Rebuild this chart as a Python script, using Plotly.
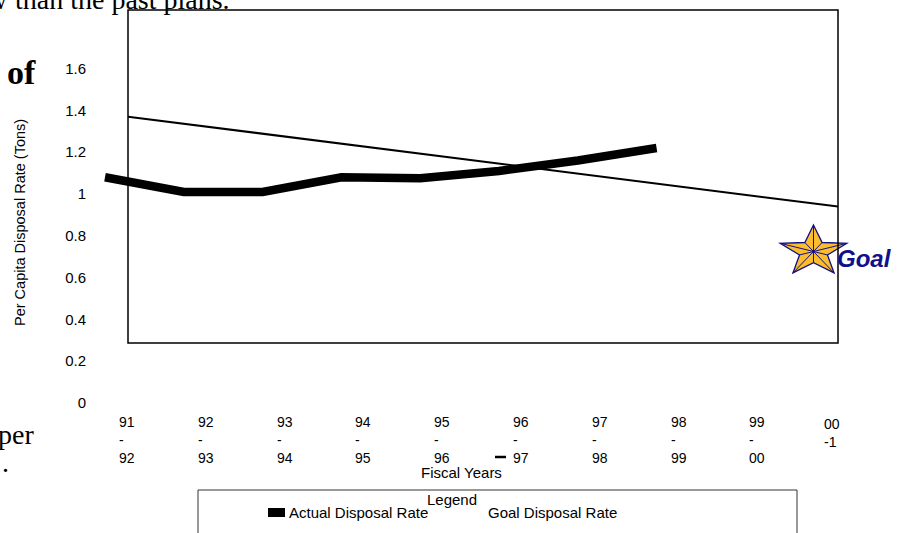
import math
import plotly.graph_objects as go

W, H = 897, 533

# ---- data ----
fiscal_years = ["91-92", "92-93", "93-94", "94-95", "95-96",
                "96-97", "97-98", "98-99", "99-00", "00-01"]
tick_labels = ["91<br>-<br>92", "92<br>-<br>93", "93<br>-<br>94", "94<br>-<br>95",
               "95<br>-<br>96", "96<br>-<br>97", "97<br>-<br>98", "98<br>-<br>99",
               "99<br>-<br>00", "00<br>-1"]
actual_years = fiscal_years[:8]
actual_rate = [1.08, 1.01, 1.01, 1.08, 1.075, 1.11, 1.16, 1.22]
goal_years = ["91-92", "00-01"]
goal_rate = [1.37, 0.94]
y_ticks = [0, 0.2, 0.4, 0.6, 0.8, 1.0, 1.2, 1.4, 1.6]
y_tick_text = ["0", "0.2", "0.4", "0.6", "0.8", "1", "1.2", "1.4", "1.6"]


def px(x):
    return x / W


def py(y):
    return 1 - y / H


SANS = "Liberation Sans, Arial, sans-serif"
SERIF = "Liberation Serif, Times New Roman, serif"
NAVY = "#10108A"

fig = go.Figure()

fig.add_trace(go.Scatter(
    x=actual_years, y=actual_rate, mode="lines", name="Actual Disposal Rate",
    line=dict(color="black", width=8.5), xaxis="x", yaxis="y", showlegend=False,
))
fig.add_trace(go.Scatter(
    x=goal_years, y=goal_rate, mode="lines", name="Goal Disposal Rate",
    line=dict(color="black", width=2), xaxis="x2", yaxis="y", showlegend=False,
))

shapes = []

# gold star next to the goal year
cx, cy, rx, ry, inner = 813.5, 251.5, 35.0, 26.5, 0.42
verts = []
for k in range(10):
    a = math.radians(-90 + 36 * k)
    r = 1.0 if k % 2 == 0 else inner
    verts.append((cx + rx * r * math.cos(a), cy + ry * r * math.sin(a)))
star_path = "M " + " L ".join(f"{px(x):.5f},{py(y):.5f}" for x, y in verts) + " Z"
shapes.append(dict(type="path", xref="paper", yref="paper", path=star_path,
                   fillcolor="#FBBD2B", line=dict(color=NAVY, width=1.3), layer="above"))
spokes = " ".join(f"M {px(cx):.5f},{py(cy):.5f} L {px(x):.5f},{py(y):.5f}" for x, y in verts)
shapes.append(dict(type="path", xref="paper", yref="paper", path=spokes,
                   line=dict(color=NAVY, width=1), layer="above"))

# plot frame
shapes.append(dict(type="rect", xref="paper", yref="paper",
                   x0=px(128), x1=px(838), y0=py(343), y1=py(10),
                   line=dict(color="black", width=1.5), layer="above"))

# legend box, key swatch and stray goal key
shapes.append(dict(type="rect", xref="paper", yref="paper",
                   x0=px(198), x1=px(797), y0=py(545), y1=py(490),
                   line=dict(color="#333333", width=1), layer="above"))
shapes.append(dict(type="rect", xref="paper", yref="paper",
                   x0=px(268), x1=px(285), y0=py(517), y1=py(508),
                   fillcolor="black", line=dict(width=0), layer="above"))
shapes.append(dict(type="line", xref="paper", yref="paper",
                   x0=px(495), x1=px(506), y0=py(457), y1=py(457),
                   line=dict(color="black", width=2.5), layer="above"))


def note(x, y, text, size, family=SANS, xanchor="center", yanchor="middle", **kw):
    return dict(x=px(x), y=py(y), xref="paper", yref="paper", text=text,
                showarrow=False, xanchor=xanchor, yanchor=yanchor,
                font=dict(family=family, size=size, color=kw.pop("color", "black")), **kw)


annotations = []
for i, (yr, lab) in enumerate(zip(fiscal_years, tick_labels)):
    last = i == len(fiscal_years) - 1
    annotations.append(dict(x=yr, xref="x", y=py(414 if last else 412), yref="paper",
                            text=lab, showarrow=False, xanchor="left", yanchor="top",
                            align="left", xshift=8 if last else 12,
                            font=dict(family=SANS, size=14, color="black")))

annotations += [
    note(461, 472, "Fiscal Years", 15),
    note(20, 223, "Per Capita Disposal Rate (Tons)", 14.5, textangle=-90),
    note(452, 499, "Legend", 15),
    note(287, 512, "Actual Disposal Rate", 15, xanchor="left"),
    note(486, 512, "Goal Disposal Rate", 15, xanchor="left"),
    note(835, 259, "<b><i>Goal</i></b>", 24, xanchor="left", color=NAVY),
    # surrounding document text
    note(13, 5, "than the past plans.", 28, family=SERIF, xanchor="left",
         yanchor="bottom", yshift=-12),
    note(-15, 5, "w", 28, family=SERIF, xanchor="left", yanchor="bottom", yshift=-12),
    note(5, 73, "<b>of</b>", 34, family=SERIF, xanchor="left"),
    note(36, 434, "per", 28, family=SERIF, xanchor="right"),
    note(0, 462, ".", 28, family=SERIF, xanchor="left"),
]

x_lo = (0 - 105) / 78.8
x_hi = (W - 105) / 78.8
y_lo = (403 - H) / 209
y_hi = 403 / 209

fig.update_layout(
    width=W, height=H, autosize=False,
    margin=dict(l=0, r=0, t=0, b=0, pad=0),
    paper_bgcolor="white", plot_bgcolor="rgba(0,0,0,0)",
    showlegend=False,
    xaxis=dict(type="category", categoryarray=fiscal_years, range=[x_lo, x_hi],
               domain=[0, 1], visible=False),
    xaxis2=dict(type="category", categoryarray=fiscal_years, range=[0, 9],
                domain=[px(128), px(838)], anchor="y", visible=False),
    yaxis=dict(range=[y_lo, y_hi], domain=[0, 1], anchor="free", position=px(86),
               tickvals=y_ticks, ticktext=y_tick_text, showgrid=False, zeroline=False,
               showline=False, ticks="", tickfont=dict(family=SANS, size=15, color="black")),
    shapes=shapes,
    annotations=annotations,
)

fig.write_html("out.html")
